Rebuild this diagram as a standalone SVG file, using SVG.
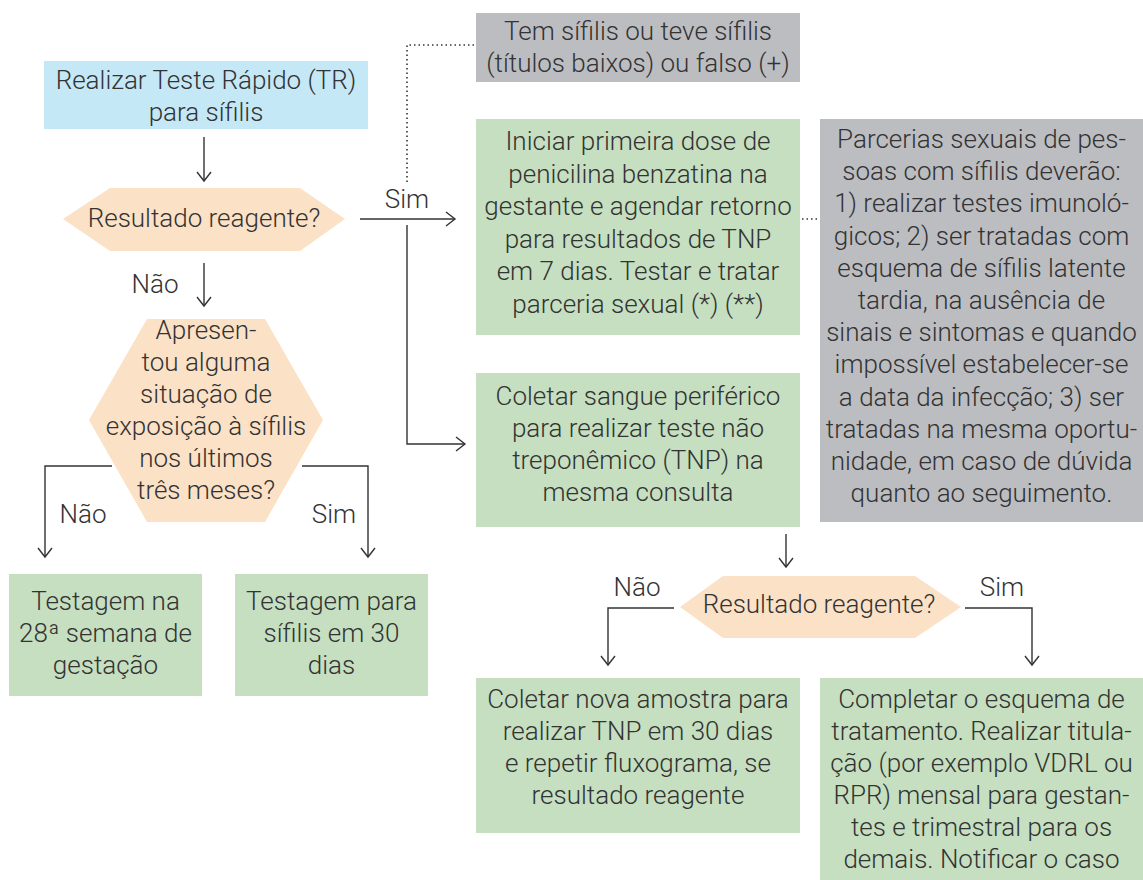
<svg xmlns="http://www.w3.org/2000/svg" width="1143" height="880" viewBox="0 0 1143 880">
<defs>
<style>
text{font-family:Roboto,"Liberation Sans",sans-serif;font-weight:300;font-size:26px;fill:#333;text-anchor:middle}
.blue{fill:#c5e8f7}
.peach{fill:#fbe1c6}
.green{fill:#c5dfc0}
.gray{fill:#bcbdc1}
.ln{fill:none;stroke:#333;stroke-width:1.4}
.dot{fill:none;stroke:#333;stroke-width:1.6;stroke-dasharray:1.5 3}
</style>
<marker id="ah" markerUnits="userSpaceOnUse" markerWidth="14" markerHeight="20" refX="10" refY="8" orient="auto" viewBox="0 0 14 16">
<path d="M1,1 L10,8 L1,15" fill="none" stroke="#333" stroke-width="1.4"/>
</marker>
</defs>
<rect width="1143" height="880" fill="#fff"/>

<g id="connectors">
<line class="ln" x1="204" y1="137" x2="204" y2="181" marker-end="url(#ah)"/>
<line class="ln" x1="360" y1="219" x2="455" y2="219" marker-end="url(#ah)"/>
<polyline class="ln" points="407,225 407,444 465,444" marker-end="url(#ah)"/>
<polyline class="dot" points="407,182 407,45 476,45"/>
<line class="dot" x1="802" y1="219" x2="820" y2="219"/>
<line class="ln" x1="204" y1="263" x2="204" y2="306" marker-end="url(#ah)"/>
<polyline class="ln" points="112,466 45,466 45,557" marker-end="url(#ah)"/>
<polyline class="ln" points="302,466 368,466 368,557" marker-end="url(#ah)"/>
<line class="ln" x1="786" y1="534" x2="786" y2="567" marker-end="url(#ah)"/>
<polyline class="ln" points="674,608 608,608 608,665" marker-end="url(#ah)"/>
<polyline class="ln" points="965,608 1032,608 1032,665" marker-end="url(#ah)"/>
<text x="407" y="208">Sim</text>
<text x="155" y="293">Não</text>
<text x="83" y="523">Não</text>
<text x="334" y="523">Sim</text>
<text x="637" y="596">Não</text>
<text x="1002" y="596">Sim</text>
</g>

<g id="start">
<rect class="blue" x="44" y="61" width="324" height="68"/>
<text x="206" y="89">Realizar Teste Rápido (TR)</text>
<text x="206" y="121">para sífilis</text>
</g>

<g id="decision1">
<polygon class="peach" points="63,219 110,188 300,188 345,219 300,251 110,251"/>
<text x="204" y="227">Resultado reagente?</text>
</g>

<g id="decision2">
<polygon class="peach" points="89,420 147,319 265,319 323,420 265,522 147,522"/>
<text x="206" y="339">Apresen-</text>
<text x="206" y="371">tou alguma</text>
<text x="206" y="403">situação de</text>
<text x="206" y="435">exposição à sífilis</text>
<text x="206" y="467">nos últimos</text>
<text x="206" y="499">três meses?</text>
</g>

<g id="test28">
<rect class="green" x="9" y="574" width="193" height="122"/>
<text x="105.5" y="610">Testagem na</text>
<text x="105.5" y="642">28ª semana de</text>
<text x="105.5" y="674">gestação</text>
</g>

<g id="test30">
<rect class="green" x="235" y="574" width="193" height="122"/>
<text x="331.5" y="610">Testagem para</text>
<text x="331.5" y="642">sífilis em 30</text>
<text x="331.5" y="674">dias</text>
</g>

<g id="note-top">
<rect class="gray" x="476" y="13" width="324" height="69"/>
<text x="638" y="40">Tem sífilis ou teve sífilis</text>
<text x="638" y="72">(títulos baixos) ou falso (+)</text>
</g>

<g id="penicilina">
<rect class="green" x="476" y="119" width="324" height="216"/>
<text x="638" y="150">Iniciar primeira dose de</text>
<text x="638" y="182.5">penicilina benzatina na</text>
<text x="638" y="215">gestante e agendar retorno</text>
<text x="638" y="247.5">para resultados de TNP</text>
<text x="638" y="280">em 7 dias. Testar e tratar</text>
<text x="638" y="312.5">parceria sexual (*) (**)</text>
</g>

<g id="note-parcerias">
<rect class="gray" x="820" y="119" width="323" height="403"/>
<text x="981.5" y="148">Parcerias sexuais de pes-</text>
<text x="981.5" y="180.2">soas com sífilis deverão:</text>
<text x="981.5" y="212.4">1) realizar testes imunoló-</text>
<text x="981.5" y="244.6">gicos; 2) ser tratadas com</text>
<text x="981.5" y="276.8">esquema de sífilis latente</text>
<text x="981.5" y="309">tardia, na ausência de</text>
<text x="981.5" y="341.2">sinais e sintomas e quando</text>
<text x="981.5" y="373.4">impossível estabelecer-se</text>
<text x="981.5" y="405.6">a data da infecção; 3) ser</text>
<text x="981.5" y="437.8">tratadas na mesma oportu-</text>
<text x="981.5" y="470">nidade, em caso de dúvida</text>
<text x="981.5" y="502.2">quanto ao seguimento.</text>
</g>

<g id="coletar">
<rect class="green" x="476" y="373" width="324" height="154"/>
<text x="638" y="405">Coletar sangue periférico</text>
<text x="638" y="437">para realizar teste não</text>
<text x="638" y="469">treponêmico (TNP) na</text>
<text x="638" y="501">mesma consulta</text>
</g>

<g id="decision3">
<polygon class="peach" points="680,607 723,576 915,576 961,607 915,638 723,638"/>
<text x="819" y="613">Resultado reagente?</text>
</g>

<g id="nova-amostra">
<rect class="green" x="476" y="678" width="324" height="155"/>
<text x="638" y="708">Coletar nova amostra para</text>
<text x="638" y="740">realizar TNP em 30 dias</text>
<text x="638" y="772">e repetir fluxograma, se</text>
<text x="638" y="804">resultado reagente</text>
</g>

<g id="completar">
<rect class="green" x="820" y="678" width="323" height="202"/>
<text x="981.5" y="708">Completar o esquema de</text>
<text x="981.5" y="740">tratamento. Realizar titula-</text>
<text x="981.5" y="772">ção (por exemplo VDRL ou</text>
<text x="981.5" y="804">RPR) mensal para gestan-</text>
<text x="981.5" y="836">tes e trimestral para os</text>
<text x="981.5" y="868">demais. Notificar o caso</text>
</g>
</svg>
